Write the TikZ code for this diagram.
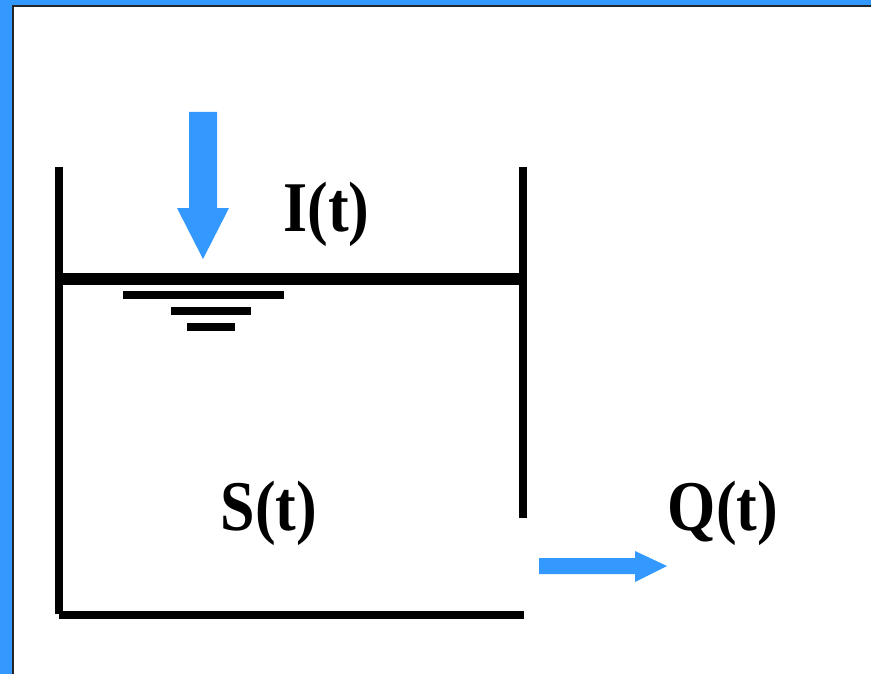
\documentclass[tikz,border=0pt]{standalone}
\usepackage{fontspec}
\setmainfont{Liberation Serif}
\definecolor{flowblue}{RGB}{51,153,255}
\tikzset{
  wall/.style={fill=black},
  flow/.style={fill=flowblue},
  lbl/.style={anchor=base, inner sep=0pt, font=\fontsize{62bp}{70bp}\selectfont\bfseries}
}
\newcommand{\tallt}[1]{\scalebox{1}[1.15]{#1}}
\begin{document}
\begin{tikzpicture}[x=1bp,y=-1bp]
\useasboundingbox (0,0) rectangle (871,674);
% frame
\fill[white] (0,0) rectangle (871,674);
\fill[flowblue] (0,0) rectangle (12,674);
\fill[flowblue] (0,0) rectangle (871,5);
\fill[black!85] (12,5) rectangle (14,674);
\fill[black!85] (12,5) rectangle (871,7);
% tank
\fill[wall] (55,167) rectangle (63,614);
\fill[wall] (518.5,167) rectangle (526.5,518);
\fill[wall] (59,611) rectangle (524,619);
\fill[wall] (63,273) rectangle (518.5,285);
% water-level symbol
\fill[wall] (123,291) rectangle (284,299);
\fill[wall] (171,307) rectangle (251,315);
\fill[wall] (187,323) rectangle (235,331);
% inflow arrow
\coordinate (intip) at (203,259);
\fill[flow] (189,112) -- (217,112) -- (217,208) -- (229,208) -- (intip) -- (177,208) -- (189,208) -- cycle;
% outflow arrow
\coordinate (outtip) at (667,566);
\fill[flow] (539,558) -- (635,558) -- (635,551) -- (outtip) -- (635,582) -- (635,574) -- (539,574) -- cycle;
% labels
\node[lbl] (I) at (326.5,231) {\tallt{I(t)}};
\node[lbl] (S) at (269,530) {\tallt{S(t)}};
\node[lbl] (Q) at (723,530) {\tallt{Q(t)}};
\end{tikzpicture}
\end{document}
